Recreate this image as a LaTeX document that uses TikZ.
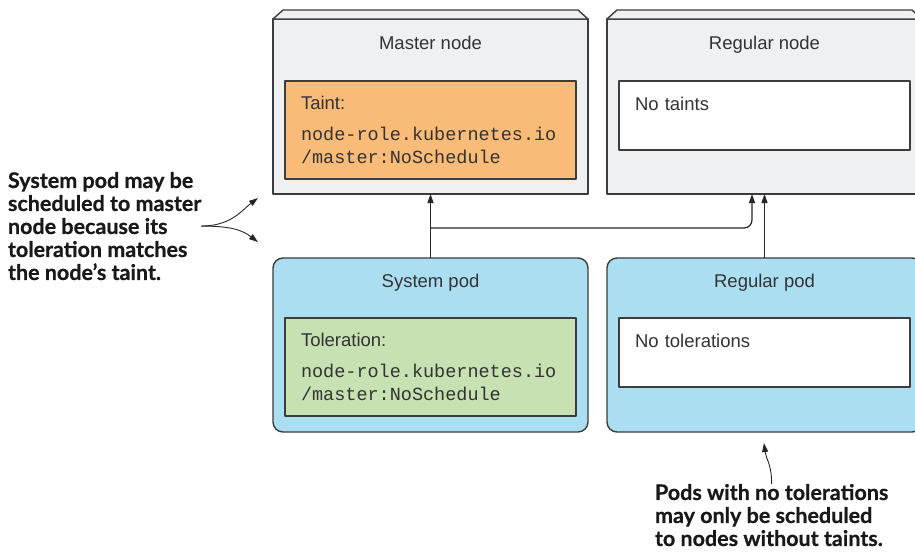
\documentclass[tikz,border=0pt]{standalone}
\usepackage{fontspec}
\setmainfont{Liberation Sans}
\setmonofont{Liberation Mono}
\newfontfamily\notefont{Lato}[BoldFeatures={FakeBold=0.6}]
\usetikzlibrary{arrows.meta,positioning}
\definecolor{TaintInk}{HTML}{333333}
\definecolor{TaintEdge}{HTML}{3C3C3C}
\definecolor{NodeFill}{HTML}{EFF0F2}
\definecolor{PodFill}{HTML}{ABDEF0}
\definecolor{TaintFill}{HTML}{F9BB78}
\definecolor{TolerFill}{HTML}{C7E1B2}
\tikzset{
    taint/diagram/.style={
        x=1pt, y=-1pt,
        font=\fontsize{18.5}{23}\selectfont,
        text=TaintInk,
        line join=round,
        every node/.style={inner sep=0pt, outer sep=0pt}
    },
    taint/server/.style={draw=TaintEdge, fill=NodeFill, line width=1.4pt,
        minimum width=315, minimum height=175},
    taint/bevel/.style={draw=TaintEdge, fill=NodeFill, line width=1.4pt},
    taint/pod/.style={draw=TaintEdge, fill=PodFill, line width=1.4pt,
        rounded corners=10pt, minimum width=315, minimum height=174},
    taint/title/.style={anchor=base},
    taint/spec/.style={draw=TaintEdge, line width=1.2pt, align=left,
        text width=259, inner xsep=16pt, minimum height=98},
    taint/empty/.style={draw=TaintEdge, fill=white, line width=1.2pt,
        align=left, text width=259, inner xsep=16pt, inner ysep=8pt,
        text height=21pt, text depth=32pt},
    taint/link/.style={draw=black!85, line width=1.2pt,
        -{Triangle[length=9pt, width=6pt]}},
    taint/note/.style={font=\notefont\bfseries\fontsize{21.5}{23}\selectfont,
        text=black!90, align=left, anchor=north west},
    taint/pointer/.style={draw=black!85, line width=0.9pt,
        -{Triangle[length=9pt, width=6pt]}}
}
\begin{document}
\begin{tikzpicture}[taint/diagram]
    \useasboundingbox (0,0) rectangle (915,557);
    \clip (0,0) rectangle (915,557);
    % the two cluster nodes
    \node[taint/server] (master) at (430.5,106.5) {};
    \node[taint/server] (regnode) at (764.5,106.5) {};
    \draw[taint/bevel] (master.north west) -- ++(10,-9) -- ([xshift=-10pt,yshift=9pt]master.north east)
        -- (master.north east) -- cycle;
    \draw[taint/bevel] (regnode.north west) -- ++(10,-9) -- ([xshift=-10pt,yshift=9pt]regnode.north east)
        -- (regnode.north east) -- cycle;
    \node[taint/title, below=30pt of master.north, anchor=base] (mtitle) {Master node};
    \node[taint/title, below=30pt of regnode.north, anchor=base] (rtitle) {Regular node};
    \node[taint/spec, fill=TaintFill] (taintbox) at (430.5,130)
        {Taint:\\[8pt]\texttt{node-role.kubernetes.io}\\\texttt{/master:NoSchedule}};
    \node[taint/empty] (notaint) at (764.5,115.5) {No taints};
    % the two pods
    \node[taint/pod] (syspod) at (430.5,345) {};
    \node[taint/pod] (regpod) at (764.5,345) {};
    \node[taint/title, below=29pt of syspod.north, anchor=base] (stitle) {System pod};
    \node[taint/title, below=29pt of regpod.north, anchor=base] (ptitle) {Regular pod};
    \node[taint/spec, fill=TolerFill] (tolerbox) at (430.5,367)
        {Toleration:\\[8pt]\texttt{node-role.kubernetes.io}\\\texttt{/master:NoSchedule}};
    \node[taint/empty] (notoler) at (764.5,352.5) {No tolerations};
    % scheduling arrows
    \draw[taint/link] (syspod.north) -- (master.south);
    \draw[taint/link, rounded corners=8pt] (syspod.north) ++(0,-30)
        -| ([xshift=-12.5pt]regnode.south);
    \draw[taint/link] (regpod.north) -- (regnode.south);
    % annotations
    \node[taint/note] (sysnote) at (8,172)
        {System pod may be\\scheduled to master\\node because its\\toleration matches\\the node’s taint.};
    \coordinate (toMaster) at (258,198);
    \coordinate (toPod) at (258,242);
    \draw[taint/pointer] (sysnote.east) .. controls +(30,0) and +(-16,12) .. (toMaster);
    \draw[taint/pointer] (sysnote.east) .. controls +(30,0) and +(-16,-12) .. (toPod);
    \node[taint/note] (podnote) at (655,484)
        {Pods with no tolerations\\may only be scheduled\\to nodes without taints.};
    \coordinate (toRegPod) at (764,443);
    \draw[taint/pointer] (podnote.north) .. controls +(0,-20) and +(2,16) .. (toRegPod);
\end{tikzpicture}
\end{document}
